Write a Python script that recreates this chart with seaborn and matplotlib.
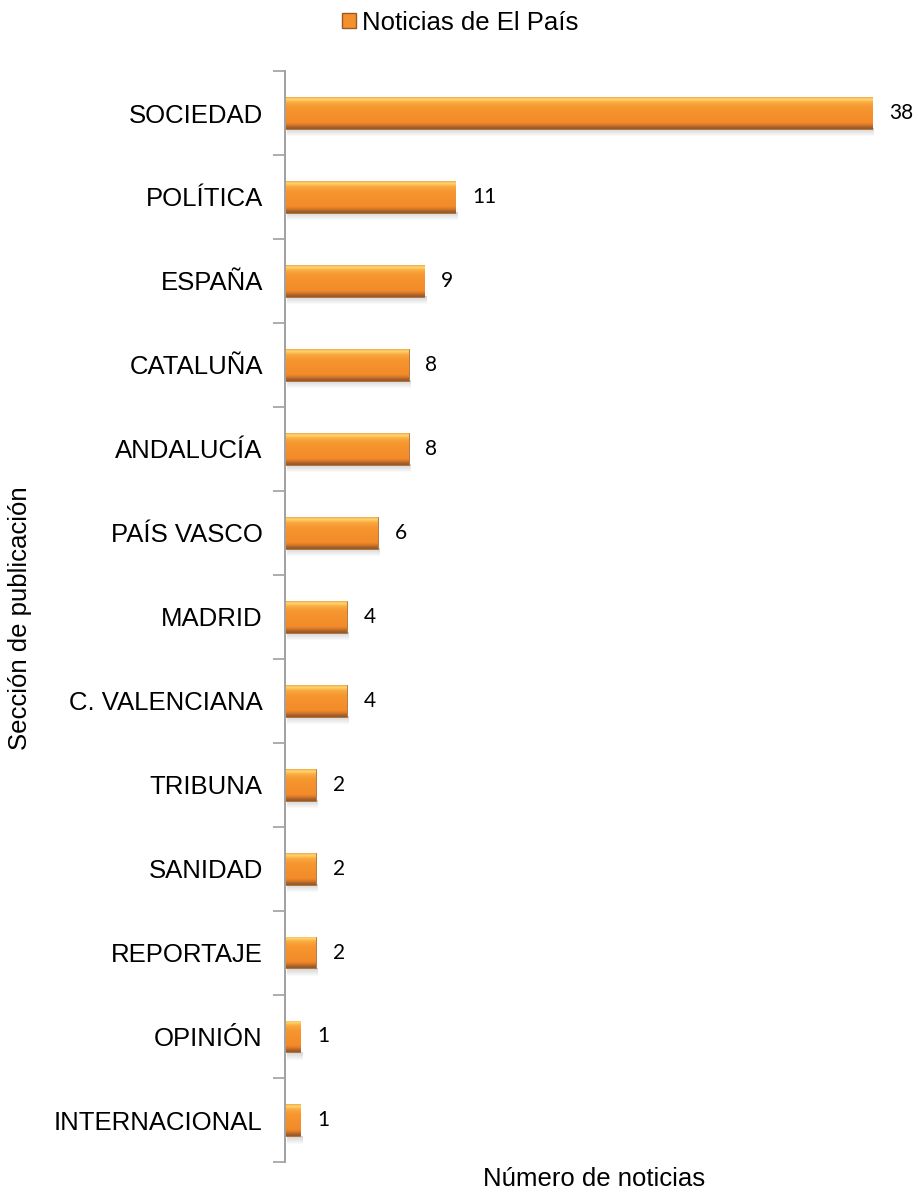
import numpy as np
import matplotlib
matplotlib.use('Agg')
import matplotlib.pyplot as plt
import seaborn as sns
import pandas as pd
from matplotlib.colors import LinearSegmentedColormap
from matplotlib.patches import Patch

secciones = ['SOCIEDAD', 'POLÍTICA', 'ESPAÑA', 'CATALUÑA', 'ANDALUCÍA', 'PAÍS VASCO',
             'MADRID', 'C. VALENCIANA', 'TRIBUNA', 'SANIDAD', 'REPORTAJE', 'OPINIÓN',
             'INTERNACIONAL']
noticias = [38, 11, 9, 8, 8, 6, 4, 4, 2, 2, 2, 1, 1]
serie = 'Noticias de El País'

df = pd.DataFrame({'Sección': secciones, 'Noticias': noticias})

sns.set_style('white')
plt.rcParams['font.family'] = ['Liberation Sans', 'DejaVu Sans']
plt.rcParams['text.color'] = 'black'
plt.rcParams['ytick.labelcolor'] = 'black'

fig = plt.figure(figsize=(9.2, 11.98), dpi=100)
ax = fig.add_axes([0.3098, 0.0297, 0.9489 - 0.3098, 0.9407 - 0.0297])

sns.barplot(data=df, x='Noticias', y='Sección', color='#F5912D', width=0.38,
            saturation=1, ax=ax, edgecolor='#9A5A26', linewidth=0.5)

# degradado tipo "bisel" dentro de cada barra
cmap = LinearSegmentedColormap.from_list('bisel', [
    (0.0, '#F4A846'), (0.06, '#FDD873'), (0.16, '#FAAA40'), (0.32, '#F7962F'),
    (0.80, '#F28B2A'), (0.88, '#DA7726'), (0.94, '#AC6329'), (1.0, '#8E5A30')])
grad = np.linspace(0, 1, 64).reshape(-1, 1)
sombra = np.linspace(0.18, 0, 16).reshape(-1, 1)
for p in ax.patches:
    x0, y0 = p.get_x(), p.get_y()
    w, h = p.get_width(), p.get_height()
    im = ax.imshow(grad, cmap=cmap, aspect='auto', extent=(x0, x0 + w, y0 + h, y0),
                   zorder=p.get_zorder() + 0.1, interpolation='bicubic')
    im.set_clip_path(p)
    # sombra suave debajo
    ax.imshow(np.dstack([np.zeros((16, 1, 3)), sombra[:, :, None]]), aspect='auto',
              extent=(x0 + 0.1, x0 + w + 0.1, y0 + h + 0.1, y0 + h),
              zorder=p.get_zorder() - 0.1, interpolation='bilinear')

ax.bar_label(ax.containers[0], labels=[str(v) for v in noticias], padding=12,
             fontsize=15, family=['Lato', 'DejaVu Sans'], color='black')

ax.set_xlim(0, 38)
ax.set_ylim(len(secciones) - 0.5, -0.5)
ax.set_xticks([])
ax.set_xlabel('')
ax.set_ylabel('')
ax.set_yticks(range(len(secciones)))
ax.set_yticklabels(secciones, fontsize=18.5)
ax.set_yticks(np.arange(-0.5, len(secciones), 1), minor=True)
ax.tick_params(axis='y', which='major', length=0, pad=16)
ax.tick_params(axis='y', which='minor', length=9, width=1.2, color='#A0A0A0', left=True)

for s in ['top', 'right', 'bottom']:
    ax.spines[s].set_visible(False)
ax.spines['left'].set_color('#A0A0A0')
ax.spines['left'].set_linewidth(1.4)

fig.text(0.009, 0.484, 'Sección de publicación', rotation=90, fontsize=18.5,
         ha='left', va='center')
fig.text(0.6457, 0.016, 'Número de noticias', fontsize=18.5, ha='center', va='center')

# leyenda
fig.legend(handles=[Patch(facecolor='#F5912D', edgecolor='#9A5A26')], labels=[serie],
           loc='center', bbox_to_anchor=(0.50, 0.981), frameon=False, fontsize=18.5,
           handlelength=0.55, handleheight=0.55, handletextpad=0.25)

fig.savefig('out.png', dpi=100)
